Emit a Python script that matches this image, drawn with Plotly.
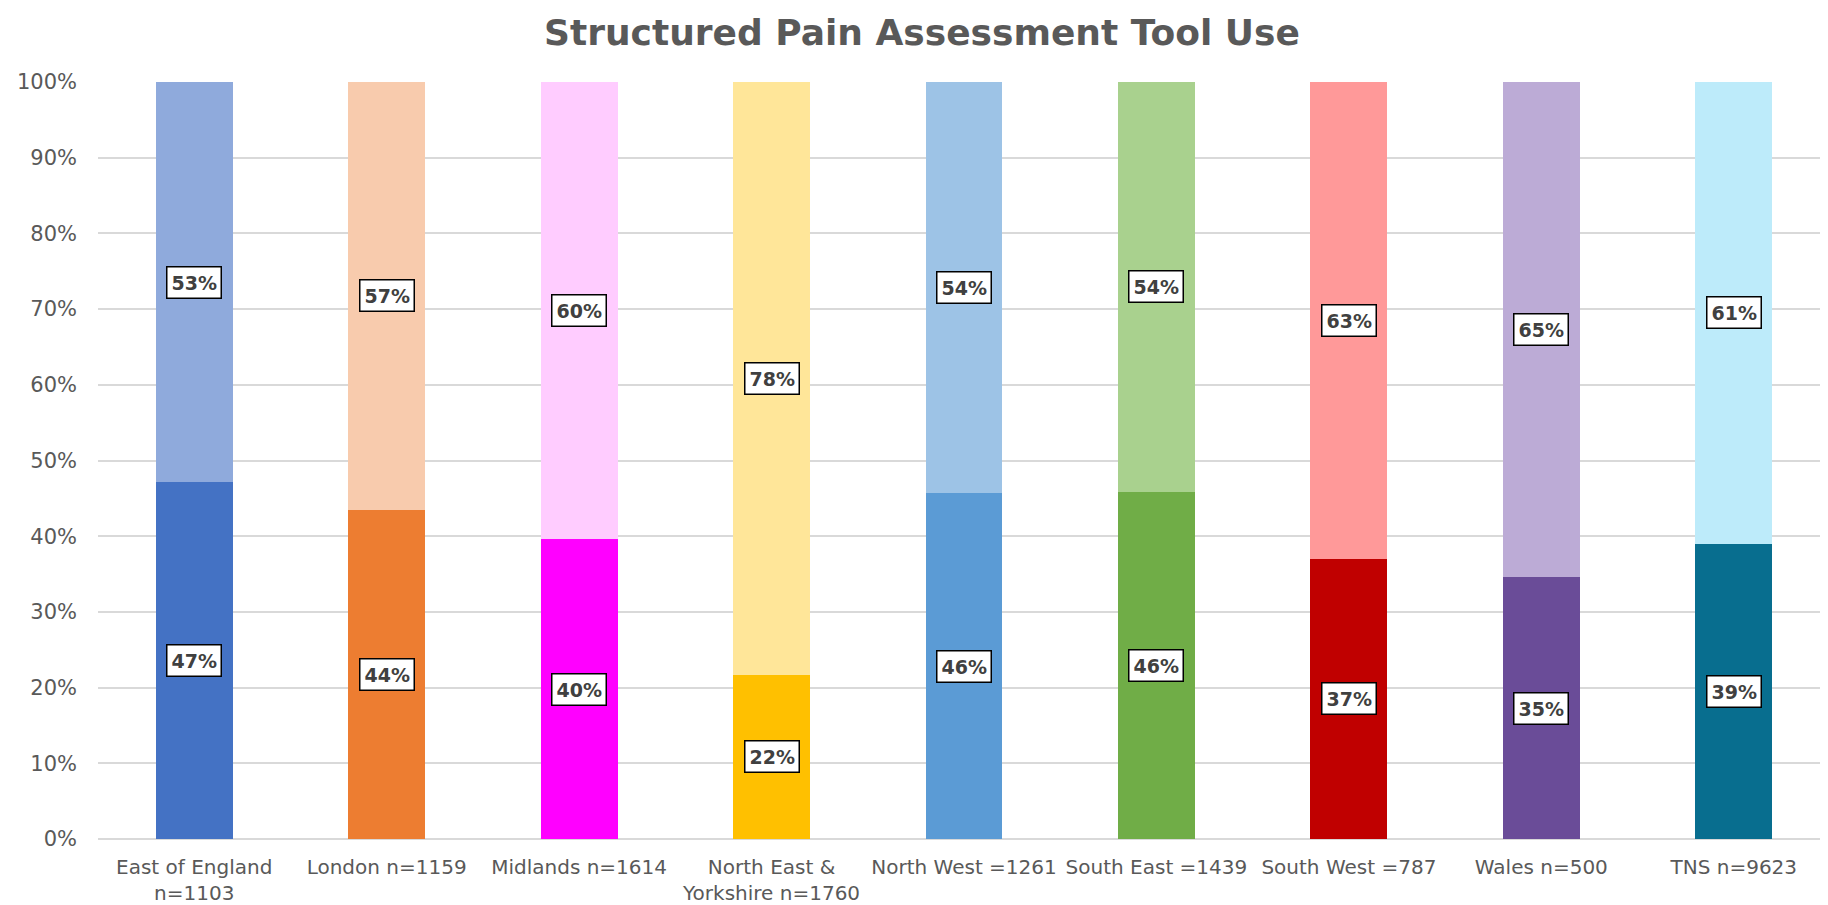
import plotly.graph_objects as go

categories = ["East of England<br>n=1103", "London n=1159", "Midlands n=1614",
              "North East &<br>Yorkshire n=1760", "North West =1261", "South East =1439",
              "South West =787", "Wales n=500", "TNS n=9623"]
used = [47.1, 43.5, 39.6, 21.7, 45.7, 45.9, 37.0, 34.6, 39.0]
not_used = [52.9, 56.5, 60.4, 78.3, 54.3, 54.1, 63.0, 65.4, 61.0]
dark_colors = ["#4472C4", "#ED7D31", "#FF00FF", "#FFC000", "#5B9BD5", "#70AD47",
               "#C00000", "#6A4C98", "#086E8F"]
light_colors = ["#8FAADC", "#F8CBAD", "#FFCCFF", "#FFE699", "#9DC3E6", "#A9D18E",
                "#FF9999", "#BCABD6", "#BDEBFA"]
y_ticks = [0, 10, 20, 30, 40, 50, 60, 70, 80, 90, 100]
y_tick_labels = [f"{t}%" for t in y_ticks]

FONT = "DejaVu Sans"


def pct(v):
    return f"{int(v + 0.5)}%"


fig = go.Figure()
fig.add_trace(go.Bar(x=categories, y=used, marker=dict(color=dark_colors, line=dict(width=0)),
                     name="Used", hoverinfo="y"))
fig.add_trace(go.Bar(x=categories, y=not_used, marker=dict(color=light_colors, line=dict(width=0)),
                     name="Not used", hoverinfo="y"))

annotations = []
for c, u, n in zip(categories, used, not_used):
    for val, mid in ((u, u / 2), (n, u + n / 2)):
        annotations.append(dict(
            x=c, y=mid, xref="x", yref="y", text=f"<b>{pct(val)}</b>", showarrow=False,
            font=dict(family=FONT, size=19, color="#404040"),
            bgcolor="white", bordercolor="black", borderwidth=1.5, borderpad=4,
        ))

fig.update_layout(
    width=1828, height=905,
    barmode="stack", bargap=0.6,
    showlegend=False,
    plot_bgcolor="white", paper_bgcolor="white",
    margin=dict(l=90, r=6, t=74, b=74),
    title=dict(text="<b>Structured Pain Assessment Tool Use</b>", x=0.5, xanchor="center",
               y=0.973, yanchor="middle",
               font=dict(family=FONT, size=36, color="#595959")),
    font=dict(family=FONT, color="#595959"),
    annotations=annotations,
    xaxis=dict(tickfont=dict(family=FONT, size=20, color="#595959"), showgrid=False,
               showline=False, ticks="", fixedrange=True, ticklabelstandoff=14,
               automargin=False),
    yaxis=dict(range=[0, 100], tickvals=y_ticks, ticktext=y_tick_labels,
               tickfont=dict(family=FONT, size=21, color="#595959"), showgrid=True,
               gridcolor="#D9D9D9", gridwidth=1.5, zeroline=True, zerolinecolor="#D9D9D9",
               zerolinewidth=1.5, showline=False, ticks="", ticklabelstandoff=20,
               automargin=False),
)

fig.write_html("out.html")
